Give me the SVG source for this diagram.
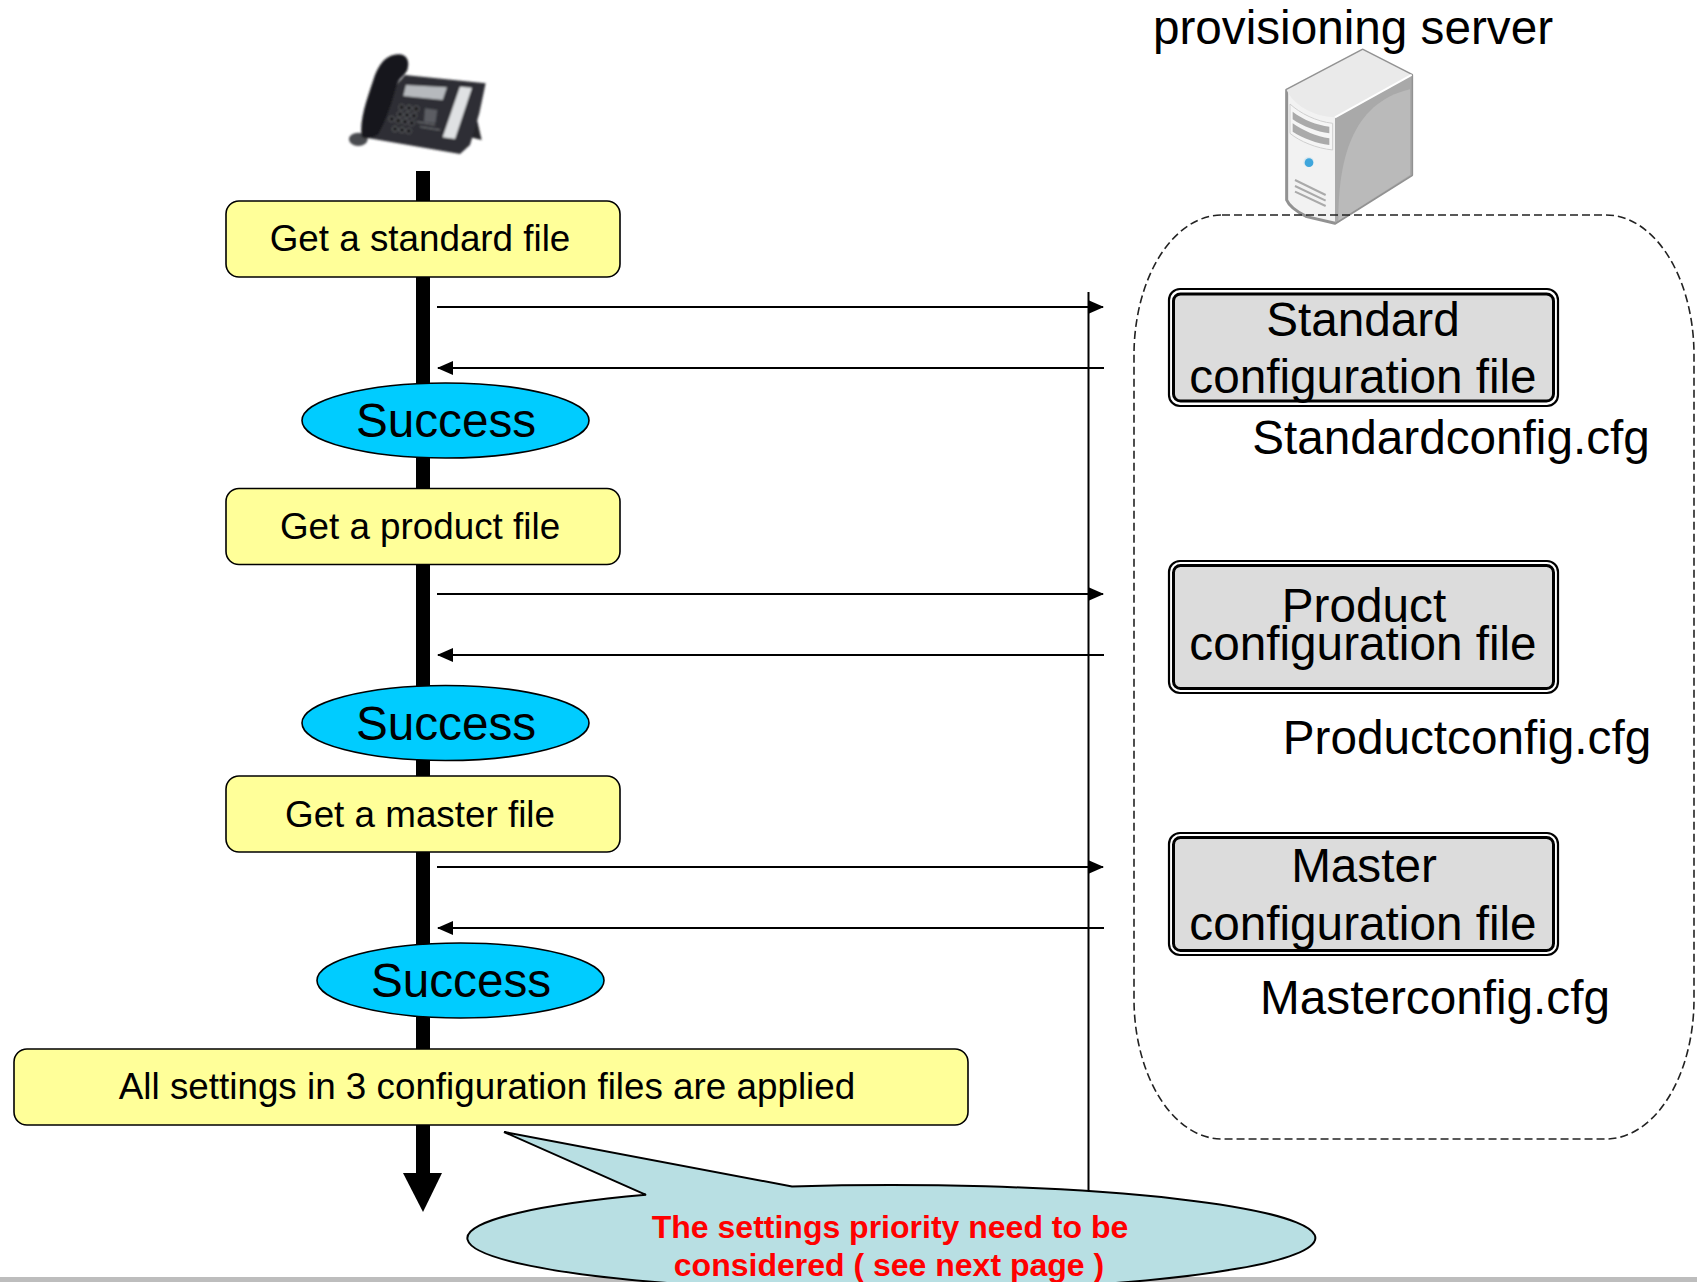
<svg xmlns="http://www.w3.org/2000/svg" width="1697" height="1282" viewBox="0 0 1697 1282">
<style>
text{font-family:"Liberation Sans",Arial,sans-serif;fill:#000;text-anchor:middle}
.step{fill:#ffff99;stroke:#000;stroke-width:1.6}
.ok{fill:#00ccff;stroke:#000;stroke-width:1.6}
.cfg{fill:#dcdcdc;stroke:#000;stroke-width:3}
.cfgo{fill:#fff;stroke:#000;stroke-width:2.2}
.t36{font-size:36.800px}.t48{font-size:47.700px}
.red{font-size:32px;font-weight:700;fill:#ff0000}
.flow{stroke:#000;stroke-width:2;fill:none}
</style>
<defs>
<marker id="ah" markerUnits="userSpaceOnUse" markerWidth="16" markerHeight="14" refX="15" refY="7" orient="auto-start-reverse"><path d="M0 0L16 7L0 14Z" fill="#000"/></marker>
<filter id="soft" x="-5%" y="-5%" width="110%" height="110%"><feGaussianBlur stdDeviation="2.500"/></filter>
</defs>
<rect width="1697" height="1282" fill="#fff"/>
<rect id="bottom-strip" y="1277" width="1697" height="5" fill="#bdbdbd"/>
<g id="connectors">
<rect x="416" y="171" width="14" height="1003" fill="#000"/>
<path d="M403 1173H442L423 1212Z" fill="#000"/>
<path class="flow" d="M1088.500 292V1192"/>
<path class="flow" d="M437 307H1103" marker-end="url(#ah)"/>
<path class="flow" d="M1104 368H438" marker-end="url(#ah)"/>
<path class="flow" d="M437 594H1103" marker-end="url(#ah)"/>
<path class="flow" d="M1104 655H438" marker-end="url(#ah)"/>
<path class="flow" d="M437 867H1103" marker-end="url(#ah)"/>
<path class="flow" d="M1104 928H438" marker-end="url(#ah)"/>
</g>
<g id="phone" transform="translate(320 30) scale(.3333)"><g filter="url(#soft)">
<path d="M470 265L485 330L452 322L445 270Z" fill="#26262a"/>
<path d="M255 135L497 160L478 250L450 345L420 372L130 322L170 230Z" fill="#2e2f34"/>
<ellipse cx="115" cy="328" rx="28" ry="20" fill="#4a4c50"/>
<path d="M125 320C118 270 140 210 160 150C175 105 195 75 235 73C262 73 270 95 262 120C252 140 240 140 230 165C218 210 200 270 175 312C160 325 135 328 125 320Z" fill="#18181c"/>
<path d="M258 165L381 172L368 210L250 198Z" fill="#b6b9bd"/>
<path d="M420 170L456 173L405 327L368 322Z" fill="#dfe1e3"/>
<path d="M315 235L352 240L346 280L312 275Z" fill="#5b5d63"/>
<g fill="#0e0e10" stroke="#85878b" stroke-width="2">
<circle cx="245" cy="232" r="8"/><circle cx="267" cy="234" r="8"/><circle cx="289" cy="236" r="8"/>
<circle cx="240" cy="253" r="8"/><circle cx="261" cy="255" r="8"/><circle cx="282" cy="257" r="8"/>
<circle cx="215" cy="267" r="8"/><circle cx="235" cy="272" r="8"/><circle cx="255" cy="275" r="8"/><circle cx="275" cy="279" r="8"/>
<circle cx="225" cy="297" r="8"/><circle cx="246" cy="300" r="8"/><circle cx="266" cy="303" r="8"/>
</g>
<path d="M300 290L360 300M290 275L345 285" stroke="#77797d" stroke-width="3" fill="none"/>
</g></g>
<g id="server" transform="translate(1260 30) scale(.3333)">
<path d="M80 180L308 60L455 135V435L225 580L140 560Q90 535 80 510Z" fill="#f2f2f2" stroke="#929292" stroke-width="9" stroke-linejoin="round"/>
<path d="M80 180L308 60L455 135L225 262C160 260 100 225 80 180Z" fill="#eaeaea"/>
<path d="M225 262L455 135V435L225 578Z" fill="#a9a9a9"/>
<path d="M235 572C235 400 270 220 450 178V435Z" fill="#bababa"/>
<path d="M225 262L455 135" stroke="#fff" stroke-width="6" fill="none"/>
<path d="M90 222C120 250 170 275 218 280V360C170 355 120 335 90 310Z" fill="#f5f5f5" stroke="#cfcfcf" stroke-width="3"/>
<path d="M98 245C130 270 170 285 208 290V310C170 305 130 290 98 268ZM98 280C130 302 170 320 208 325V345C170 340 130 325 98 305Z" fill="#aaa"/>
<circle cx="146" cy="396" r="16" fill="#dce9f0"/>
<circle cx="147" cy="398" r="13" fill="#3fa6dc"/>
<path d="M105 450L197 495M105 468L197 512M105 485L197 528" stroke="#aaa" stroke-width="6" fill="none"/>
</g>
<text id="server-label" class="t48" x="1353" y="44">provisioning server</text>
<rect id="server-zone" x="1134" y="215" width="560" height="924" rx="88" ry="140" fill="none" stroke="#222" stroke-width="1.6" stroke-dasharray="8 4"/>
<g id="step-standard"><rect class="step" x="226" y="201" width="394" height="76" rx="13"/><text class="t36" x="420" y="251">Get a standard file</text></g>
<g id="success-1"><ellipse class="ok" cx="445.500" cy="420.500" rx="143.500" ry="37.500"/><text class="t48" x="446" y="437">Success</text></g>
<g id="step-product"><rect class="step" x="226" y="488.500" width="394" height="76" rx="13"/><text class="t36" x="420" y="539">Get a product file</text></g>
<g id="success-2"><ellipse class="ok" cx="445.500" cy="723" rx="143.500" ry="37.500"/><text class="t48" x="446" y="740">Success</text></g>
<g id="step-master"><rect class="step" x="226" y="776" width="394" height="76" rx="13"/><text class="t36" x="420" y="827">Get a master file</text></g>
<g id="success-3"><ellipse class="ok" cx="460.500" cy="980.500" rx="143.500" ry="37.500"/><text class="t48" x="461" y="997">Success</text></g>
<g id="step-applied"><rect class="step" x="14" y="1049" width="954" height="76" rx="13"/><text class="t36" x="487" y="1099">All settings in 3 configuration files are applied</text></g>
<g id="cfg-standard"><rect class="cfgo" x="1169" y="289" width="389" height="117" rx="11"/><rect class="cfg" x="1173.500" y="294" width="380" height="107" rx="7"/><text class="t48" x="1363" y="336">Standard</text><text class="t48" x="1363" y="393">configuration file</text></g>
<text id="file-standard" class="t48" x="1451" y="454">Standardconfig.cfg</text>
<g id="cfg-product"><rect class="cfgo" x="1169" y="561" width="389" height="132" rx="11"/><rect class="cfg" x="1173.500" y="565.500" width="380" height="123" rx="7"/><text class="t48" x="1364" y="622">Product</text><text class="t48" x="1363" y="660">configuration file</text></g>
<text id="file-product" class="t48" x="1467" y="754">Productconfig.cfg</text>
<g id="cfg-master"><rect class="cfgo" x="1169" y="833" width="389" height="122" rx="11"/><rect class="cfg" x="1173.500" y="837.500" width="380" height="113" rx="7"/><text class="t48" x="1364" y="882">Master</text><text class="t48" x="1363" y="940">configuration file</text></g>
<text id="file-master" class="t48" x="1435" y="1014">Masterconfig.cfg</text>
<g id="callout">
<path d="M504 1132L792 1186.500A424 53 0 1 1 646 1194.800Z" fill="#b8dfe3" stroke="#000" stroke-width="2"/>
<text class="red" x="890" y="1238">The settings priority need to be</text>
<text class="red" x="889" y="1276">considered ( see next page )</text>
</g>
</svg>
